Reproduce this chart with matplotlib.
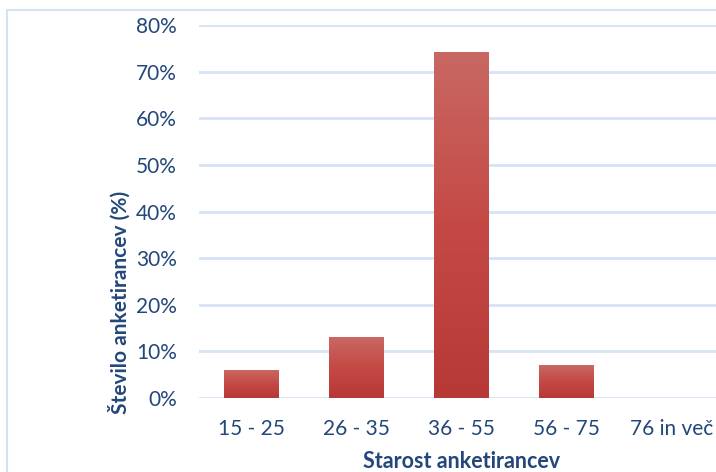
import matplotlib
matplotlib.use("Agg")
import matplotlib.pyplot as plt
import numpy as np
from matplotlib.patches import Rectangle
from matplotlib.colors import LinearSegmentedColormap

categories = ["15 - 25", "26 - 35", "36 - 55", "56 - 75", "76 in več"]
values = [0.06, 0.13, 0.74, 0.07, 0.0]
yticks = [0, 0.1, 0.2, 0.3, 0.4, 0.5, 0.6, 0.7, 0.8]
ytick_labels = ["0%", "10%", "20%", "30%", "40%", "50%", "60%", "70%", "80%"]

W, H = 716, 472
fig = plt.figure(figsize=(W/100, H/100), dpi=100)
plt.rcParams['font.family'] = ['Lato', 'DejaVu Sans']
txt = "#23477a"

# outer frame
fig.patches.append(Rectangle((7/W, -0.1), 1.2, 1 - 10/H + 0.1, transform=fig.transFigure,
                             fill=False, edgecolor="#d5e2f4", lw=1.5))

ax = fig.add_axes([199/W, 1-398/H, 525/W, (398-25)/H])
x = np.arange(len(categories))
bars = ax.bar(x, values, width=0.52, color="none", zorder=3)
cmap = LinearSegmentedColormap.from_list("g", ["#b73937", "#c44945", "#c96863"])
grad = np.linspace(0, 1, 256).reshape(-1, 1)
for b in bars:
    h = b.get_height()
    if h <= 0:
        continue
    x0 = b.get_x()
    ax.imshow(grad, extent=[x0, x0 + b.get_width(), 0, h], origin="lower",
              aspect="auto", cmap=cmap, zorder=3)
ax.set_xlim(-0.5, len(categories) - 0.5)
ax.set_ylim(0, 0.8)
ax.set_yticks(yticks)
ax.set_yticklabels(ytick_labels)
ax.set_xticks(x)
ax.set_xticklabels(categories)
ax.tick_params(length=0, labelsize=15, colors=txt)
ax.tick_params(axis='x', pad=15)
ax.tick_params(axis='y', pad=16)
for s in ax.spines.values():
    s.set_visible(False)
ax.grid(axis='y', color="#d6e3f5", lw=2, zorder=0)
ax.set_axisbelow(True)

fig.text(462/W, 1-461/H, "Starost anketirancev", ha="center", va="center",
         fontsize=15.5, fontweight="bold", color=txt)
fig.text(119/W, 1-302/H, "Število anketirancev (%)", ha="center", va="center",
         rotation=90, fontsize=15, fontweight="bold", color=txt)

fig.savefig("out.png", dpi=100)
